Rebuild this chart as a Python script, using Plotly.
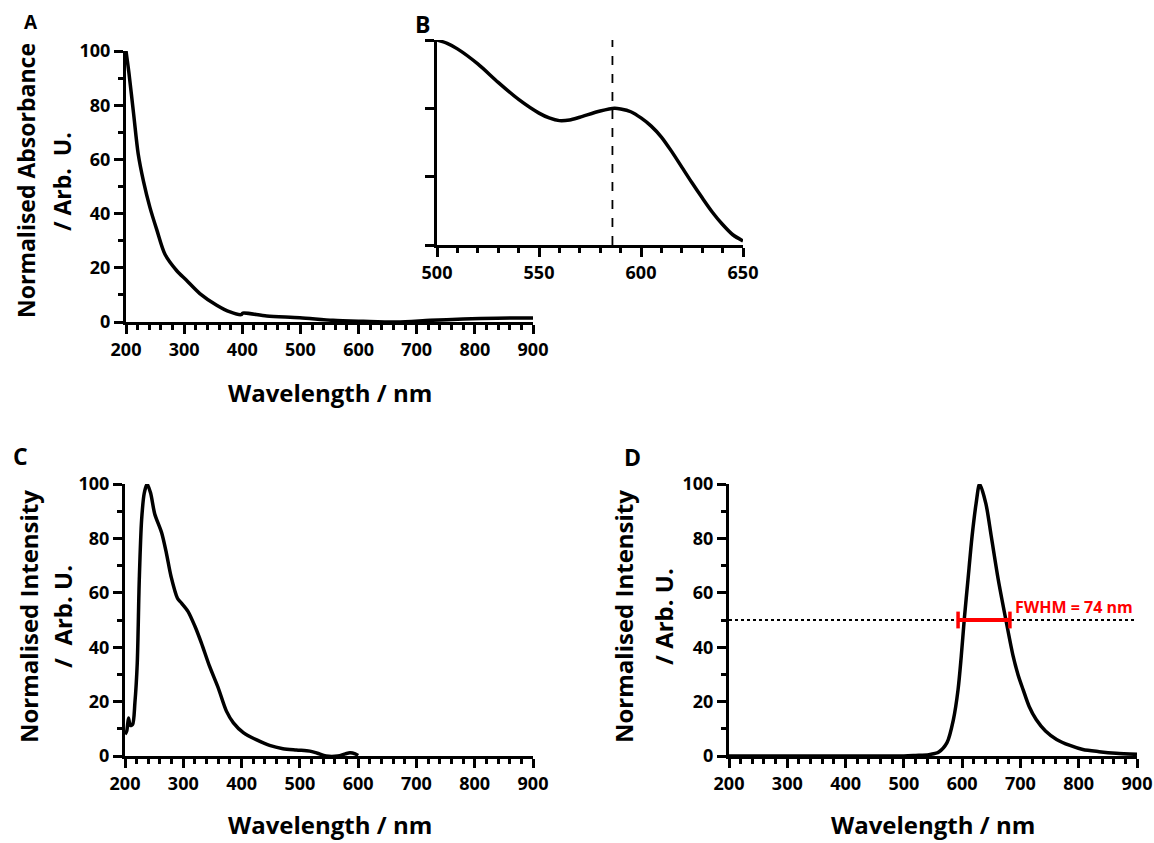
import plotly.graph_objects as go

W, H = 1154, 843
FONT = "Open Sans"

# ---------------- data ----------------
# Panel A: normalised absorbance
A_wl = [200, 205, 213, 221, 230, 241, 253, 267, 287, 304, 327, 356, 379, 398, 401, 442, 499, 556, 608, 666, 723, 780, 838, 900]
A_abs = [100, 92, 77, 62, 52, 42.4, 34, 25, 19, 15.4, 10.5, 6.2, 3.7, 2.7, 3.3, 2.2, 1.6, 0.6, 0.25, 0.0, 0.6, 1.1, 1.4, 1.5]

# Panel B: zoom of absorbance 500-650 nm (arbitrary units)
B_wl = [500, 505, 510, 520, 530, 540, 550, 555, 560, 565, 570, 580, 587, 590, 595, 600, 605, 610, 615, 620, 625, 630, 635, 640, 645, 650]
B_abs = [3.0, 2.95, 2.87, 2.65, 2.38, 2.13, 1.93, 1.86, 1.82, 1.83, 1.87, 1.96, 2.0, 1.99, 1.95, 1.86, 1.74, 1.58, 1.37, 1.14, 0.91, 0.69, 0.48, 0.30, 0.15, 0.06]
B_peak = 586

# Panel C: normalised excitation intensity
C_wl = [200, 203, 206, 209, 213, 217, 221, 224.5, 228.5, 233, 238, 244, 251, 263, 271, 279, 290, 297, 308, 320, 331, 345, 360, 374, 386, 403, 426, 448, 471, 494, 517, 530, 545, 565, 578, 586, 595, 600]
C_int = [8, 9.2, 14, 11.2, 11.6, 19.6, 34, 64.8, 86.8, 96.6, 100, 96.6, 89, 82, 74.6, 66, 58, 56.2, 53.2, 47.7, 41.6, 33, 25, 16.5, 12.2, 8.6, 5.9, 3.9, 2.7, 2.2, 1.8, 1.0, 0.0, 0.0, 0.8, 1.2, 0.8, 0.2]

# Panel D: normalised emission intensity
D_wl = [200, 300, 400, 500, 520, 543, 560, 574, 585, 593, 598.5, 603.6, 610, 617, 624, 630, 640.6, 650, 662, 675, 687.5, 696, 704.6, 715, 727, 743, 762, 785, 807, 835, 864, 900]
D_int = [0, 0, 0, 0, 0.2, 0.5, 1.5, 4.9, 13.4, 24.4, 36.7, 50.1, 64.8, 80.7, 92.9, 100, 92.9, 80.7, 64.8, 50.1, 36.7, 29.8, 24.4, 18.2, 13.4, 9.2, 6.1, 3.9, 2.4, 1.6, 1.0, 0.6]
FWHM_ends = [593, 682]
FWHM_level = 50
FWHM_text = "FWHM = 74 nm"

# ---------------- figure ----------------
fig = go.Figure()
line = dict(color="black", width=3.5, shape="spline", smoothing=0.8)

fig.add_trace(go.Scatter(x=A_wl, y=A_abs, mode="lines", line=line, xaxis="x", yaxis="y", showlegend=False))
fig.add_trace(go.Scatter(x=B_wl, y=B_abs, mode="lines", line=line, xaxis="x2", yaxis="y2", showlegend=False))
fig.add_trace(go.Scatter(x=[B_peak, B_peak], y=[0, 3], mode="lines",
                         line=dict(color="black", width=1.8, dash="dash"), xaxis="x2", yaxis="y2", showlegend=False))
fig.add_trace(go.Scatter(x=C_wl, y=C_int, mode="lines", line=line, xaxis="x3", yaxis="y3", showlegend=False))
fig.add_trace(go.Scatter(x=[200, 900], y=[FWHM_level, FWHM_level], mode="lines",
                         line=dict(color="black", width=2, dash="dot"), xaxis="x4", yaxis="y4", showlegend=False))
fig.add_trace(go.Scatter(x=D_wl, y=D_int, mode="lines", line=line, xaxis="x4", yaxis="y4", showlegend=False))
fig.add_trace(go.Scatter(x=FWHM_ends, y=[FWHM_level, FWHM_level], mode="lines+markers",
                         line=dict(color="#ff0000", width=4),
                         marker=dict(symbol="line-ns", size=12, line=dict(color="#ff0000", width=3.5)),
                         xaxis="x4", yaxis="y4", showlegend=False, cliponaxis=False))

tickfont = dict(family=FONT, size=18, color="black", weight="bold")


def xax(domain, anchor, rng, dtick, mdtick):
    return dict(domain=domain, anchor=anchor, range=rng, dtick=dtick, tick0=rng[0], automargin=False,
                showline=True, linecolor="black", linewidth=3, mirror=False,
                ticks="outside", ticklen=9, tickwidth=3, tickcolor="black",
                showgrid=False, zeroline=False, tickfont=tickfont,
                minor=dict(ticks="outside", ticklen=5, tickwidth=3, tickcolor="black", dtick=mdtick, tick0=rng[0], showgrid=False))


def yax(domain, anchor, rng, dtick, mdtick, labels=True):
    d = dict(domain=domain, anchor=anchor, range=rng, dtick=dtick, tick0=0, automargin=False,
             showline=True, linecolor="black", linewidth=3,
             ticks="outside", ticklen=9, tickwidth=3, tickcolor="black",
             showgrid=False, zeroline=False, tickfont=tickfont, showticklabels=labels)
    if mdtick:
        d["minor"] = dict(ticks="outside", ticklen=5, tickwidth=3, tickcolor="black", dtick=mdtick, tick0=0, showgrid=False)
    return d


def px(x):
    return x / W


def py(y):
    return 1 - y / H


fig.update_layout(
    template="none",
    width=W, height=H,
    margin=dict(l=0, r=0, t=0, b=0, pad=0, autoexpand=False),
    paper_bgcolor="white", plot_bgcolor="rgba(0,0,0,0)",
    font=dict(family=FONT, color="black"),
    xaxis=xax([px(126), px(533)], "y", [200, 900], 100, 20),
    yaxis=yax([py(322), py(51)], "x", [0, 100], 20, 10),
    xaxis2=xax([px(437), px(743)], "y2", [500, 650], 50, 10),
    yaxis2=yax([py(245), py(40)], "x2", [0, 3], 1, None, labels=False),
    xaxis3=xax([px(125), px(533)], "y3", [200, 900], 100, 20),
    yaxis3=yax([py(756), py(484)], "x3", [0, 100], 20, 10),
    xaxis4=xax([px(729), px(1137)], "y4", [200, 900], 100, 20),
    yaxis4=yax([py(756), py(484)], "x4", [0, 100], 20, 10),
)

ann = []


def text(x, y, s, size, angle=0, color="black", bold=True, xanchor="center"):
    ann.append(dict(x=px(x), y=py(y), xref="paper", yref="paper", text=s, showarrow=False,
                    textangle=angle, xanchor=xanchor, yanchor="middle",
                    font=dict(family=FONT, size=size, color=color, weight="bold" if bold else "normal")))


# panel letters
text(31, 22, "A", 19)
text(422, 24, "B", 23)
text(20, 456, "C", 23)
text(632, 457, "D", 23)

# axis titles
text(330, 392, "Wavelength / nm", 24)
text(26, 181, "Normalised Absorbance", 23, -90)
text(62, 182, "/ Arb.  U.", 23, -90)

text(330, 824, "Wavelength / nm", 24)
text(28, 617, "Normalised Intensity", 24, -90)
text(62, 617, "/  Arb. U.", 24, -90)

text(933, 824, "Wavelength / nm", 24)
text(623, 617, "Normalised Intensity", 24, -90)
text(663, 617, "/ Arb. U.", 24, -90)

# FWHM label
text(1013, 607, FWHM_text, 16, color="#ff0000", bold=True, xanchor="left")

fig.update_layout(annotations=ann)
fig.write_html("out.html", config={"displayModeBar": False},
               post_script="document.body.style.margin='0';document.body.style.overflow='hidden';")
